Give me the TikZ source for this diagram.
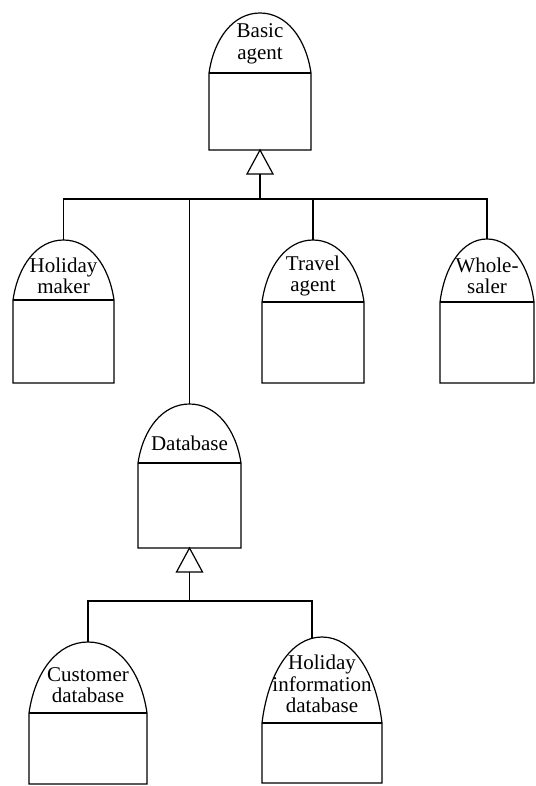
\documentclass[tikz,border=0pt]{standalone}
\usepackage{fontspec}
\setmainfont{Liberation Serif}
\begin{document}
\begin{tikzpicture}[x=1pt,y=-1pt,
  classline/.style={draw=black,line width=1.2pt,line join=miter},
  classlabel/.style={inner sep=0pt,align=center,
    font=\fontsize{21}{21.5}\selectfont}]
\useasboundingbox (0,0) rectangle (535,786);

% \classbox{name}{cx}{half width}{arch top}{divider}{bottom}{label y}{label}{attach x}
% The arch is a slightly pointed dome made of two cubic curves.
\newcommand\classbox[9]{%
  \draw[classline] ({#2-#3},#5)
    .. controls ({#2-0.9*#3},{#5-0.58*(#5-#4)}) and ({#2-0.52*#3},#4) .. (#2,#4)
    .. controls ({#2+0.52*#3},#4) and ({#2+0.9*#3},{#5-0.58*(#5-#4)}) .. ({#2+#3},#5)
    -- ({#2+#3},#6) -- ({#2-#3},#6) -- cycle;
  \draw[classline] ({#2-#3},#5) -- ({#2+#3},#5);
  \node[classlabel] (#1) at (#2,#7) {#8};
  \coordinate (#1-n) at ({#9},{#4+0.12*abs(#9-#2)});
  \coordinate (#1-s) at (#2,#6);
}

% generalisation arrow head hanging under a parent class
\newcommand\gentri[2]{%
  \draw[classline,fill=white] (#1-s) -- ++(-13,24) -- ++(26,0) -- cycle;
  \coordinate (#2) at ([yshift=-24pt]#1-s);
}

\classbox{basic}{260}{51}{13}{73}{150}{44}{Basic\\agent}{260}
\classbox{hm}{63.5}{50.5}{240}{300}{383}{276}{Holiday\\maker}{63.5}
\classbox{ta}{313}{51}{240}{302}{383}{276}{Travel\\agent}{313}
\classbox{ws}{487}{47}{239}{302}{383}{276}{Whole-\\saler}{487}
\classbox{db}{189.5}{51.5}{404}{463}{548}{443.5}{Database}{189.5}
\classbox{cd}{88}{59}{642}{713}{784}{685}{Customer\\database}{88}
\classbox{hid}{322}{60}{637}{723}{783}{684}{Holiday\\information\\database}{312}

\gentri{basic}{basic-g}
\gentri{db}{db-g}

% buses joining the subclasses
\coordinate (bus1) at (0,199);
\coordinate (bus2) at (0,601);

\draw[classline] (basic-g) -- (basic-g |- bus1);
\draw[classline] (hm-n) -- (hm-n |- bus1) -- (ws-n |- bus1) -- (ws-n);
\draw[classline] (ta-n) -- (ta-n |- bus1);
\draw[classline] (db-n) -- (db-n |- bus1);

\draw[classline] (db-g) -- (db-g |- bus2);
\draw[classline] (cd-n) -- (cd-n |- bus2) -- (hid-n |- bus2) -- (hid-n);
\end{tikzpicture}
\end{document}
